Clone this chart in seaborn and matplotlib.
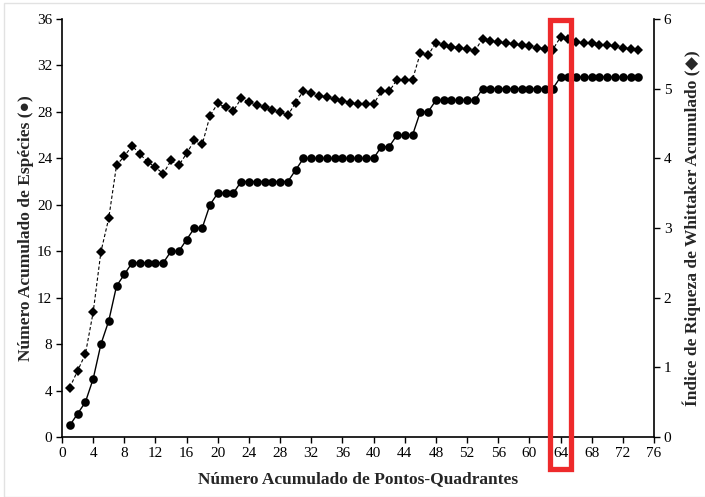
import matplotlib
matplotlib.use("Agg")
import matplotlib.pyplot as plt
from matplotlib.patches import Rectangle
import seaborn as sns
import pandas as pd

pontos = list(range(1, 75))
especies = [1, 2, 3, 5, 8, 10, 13, 14, 15, 15, 15, 15, 15, 16, 16, 17, 18, 18, 20, 21,
            21, 21, 22, 22, 22, 22, 22, 22, 22, 23, 24, 24, 24, 24, 24, 24, 24, 24, 24, 24,
            25, 25, 26, 26, 26, 28, 28, 29, 29, 29, 29, 29, 29, 30, 30, 30, 30, 30, 30, 30,
            30, 30, 30, 31, 31, 31, 31, 31, 31, 31, 31, 31, 31, 31]
whittaker = [0.71, 0.95, 1.19, 1.79, 2.66, 3.14, 3.90, 4.03, 4.18, 4.06,
             3.95, 3.87, 3.78, 3.97, 3.90, 4.07, 4.26, 4.20, 4.61, 4.79,
             4.73, 4.68, 4.86, 4.81, 4.77, 4.73, 4.69, 4.66, 4.62, 4.80,
             4.97, 4.94, 4.90, 4.88, 4.85, 4.83, 4.80, 4.78, 4.78, 4.78,
             4.96, 4.96, 5.13, 5.13, 5.13, 5.51, 5.48, 5.66, 5.63, 5.60,
             5.59, 5.57, 5.54, 5.72, 5.69, 5.67, 5.65, 5.64, 5.62, 5.61,
             5.59, 5.57, 5.56, 5.74, 5.71, 5.67, 5.66, 5.65, 5.63, 5.62,
             5.61, 5.59, 5.57, 5.56]
x_ticks = list(range(0, 77, 4))
left_ticks = list(range(0, 37, 4))
right_ticks = list(range(0, 7))
destaque = (62.6, 65.4)

df = pd.DataFrame({"pontos": pontos, "especies": especies, "whittaker": whittaker})

sns.set_style("ticks")
serif = ["Liberation Serif", "DejaVu Serif"]
plt.rcParams["font.family"] = serif
plt.rcParams["xtick.direction"] = "out"
plt.rcParams["ytick.direction"] = "out"

fig = plt.figure(figsize=(7.05, 4.97), dpi=100)
ax = fig.add_axes([62 / 705, 60 / 497, 592 / 705, 418 / 497])
ax2 = ax.twinx()

sns.lineplot(data=df, x="pontos", y="especies", ax=ax, color="black", lw=1.0,
             marker="o", markersize=6.2, markeredgewidth=0, zorder=3)
sns.lineplot(data=df, x="pontos", y="whittaker", ax=ax2, color="black", lw=0.8,
             linestyle=(0, (3, 2)), marker="D", markersize=5.0, markeredgewidth=0, zorder=3)

ax.set_xlim(0, 76)
ax.set_ylim(0, 36)
ax2.set_ylim(0, 6)
ax.set_xticks(x_ticks)
ax.set_yticks(left_ticks)
ax2.set_yticks(right_ticks)

for a in (ax, ax2):
    a.spines["top"].set_visible(False)
    for s in a.spines.values():
        s.set_linewidth(1.2)
        s.set_color("black")
    a.tick_params(length=4, width=1, colors="black", labelsize=11, pad=3)
ax.spines["right"].set_visible(False)
ax2.spines["left"].set_visible(False)
ax2.spines["bottom"].set_visible(False)
ax2.spines["right"].set_visible(True)

ax.set_xlabel("Número Acumulado de Pontos-Quadrantes", fontsize=12.5,
              fontweight="bold", family=serif, labelpad=8)
ax.set_ylabel("Número Acumulado de Espécies (●)", fontsize=12.5,
              fontweight="bold", family=serif, labelpad=2)
ax2.set_ylabel("Índice de Riqueza de Whittaker Acumulado (◆)", fontsize=12.5,
               fontweight="bold", family=serif, labelpad=8)

# red highlight box around point 64 (extends below the axis, over the tick label)
x0 = ax.transData.transform((destaque[0], 0))[0]
x1 = ax.transData.transform((destaque[1], 0))[0]
fw, fh = fig.get_size_inches() * fig.dpi
top_px = 497 - 19.8
bot_px = 497 - 468.5
fig.add_artist(Rectangle((x0 / fw, bot_px / fh), (x1 - x0) / fw, (top_px - bot_px) / fh,
                         transform=fig.transFigure, fill=False,
                         edgecolor="#ee2a2b", linewidth=3.8, zorder=10))

# faint image frame
fig.add_artist(Rectangle((4 / 705, 0.0), 1.0, (497 - 3) / 497, transform=fig.transFigure,
                         fill=False, edgecolor="#e2e2e2", linewidth=1.0, zorder=0))

fig.savefig("out.png", dpi=100)
